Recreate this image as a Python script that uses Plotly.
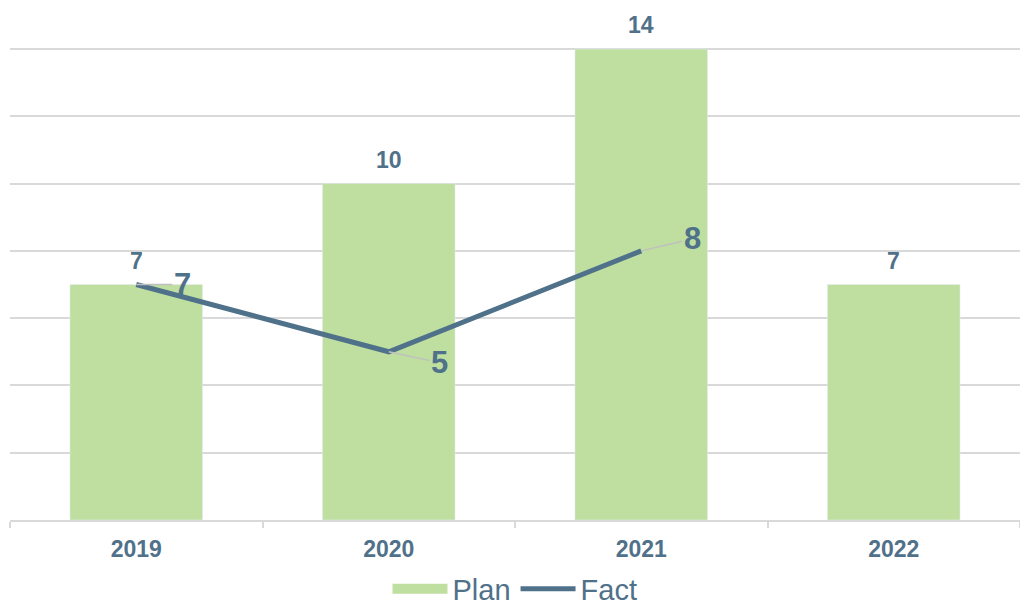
import plotly.graph_objects as go

years = ["2019", "2020", "2021", "2022"]
plan = [7, 10, 14, 7]
fact = [7, 5, 8, None]
fact_label_offsets = [(46, 0), (51, 11), (51, -12)]

TXT = "#50718A"
BAR = "#BFDFA0"
GRID = "#D9D9D9"
FONT = "Liberation Sans"

fig = go.Figure()
fig.add_trace(go.Bar(x=years, y=plan, name="Plan", marker_color=BAR, width=0.525,
                     showlegend=False))
fig.add_trace(go.Scatter(x=[None], y=[None], name="Plan", mode="lines",
                         line=dict(color=BAR, width=16)))
fig.add_trace(go.Scatter(x=years, y=fact, name="Fact", mode="lines",
                         line=dict(color=TXT, width=5)))

for i, v in enumerate(plan):
    fig.add_annotation(x=i, y=v, xref="x", yref="y", text=f"<b>{v}</b>",
                       showarrow=False, yshift=24,
                       font=dict(size=23, color=TXT, family=FONT))
for i, (v, (ax, ay)) in enumerate(zip(fact, fact_label_offsets)):
    if v is None:
        continue
    fig.add_annotation(x=i, y=v, xref="x", yref="y", text=f"<b>{v}</b>",
                       showarrow=True, arrowhead=0, arrowwidth=1.5,
                       arrowcolor="#BFBFBF", ax=ax, ay=ay,
                       font=dict(size=31, color=TXT, family=FONT))

fig.update_layout(
    width=1020, height=606,
    margin=dict(l=10, r=0, t=48, b=86, autoexpand=False),
    paper_bgcolor="white", plot_bgcolor="white",
    font=dict(family=FONT, color=TXT),
    showlegend=True,
    legend=dict(orientation="h", x=0.5, xanchor="center", yref="paper",
                y=-0.146, yanchor="middle", font=dict(size=29, color=TXT),
                itemwidth=55, tracegroupgap=0),
    xaxis=dict(type="category", showline=True, linecolor=GRID, linewidth=1.5,
               ticks="outside", tickson="boundaries", ticklen=6, tickcolor=GRID,
               tickwidth=1.5, tickfont=dict(size=23, color=TXT), range=[-0.5, 3.5],
               tickprefix="<b>", ticksuffix="</b>", ticklabelstandoff=8),
    yaxis=dict(range=[0, 14.03], tick0=0, dtick=2, showgrid=True, gridcolor=GRID,
               gridwidth=1.5, showticklabels=False, zeroline=False),
)
fig.write_html("out.html", config={"displayModeBar": False},
               post_script="document.body.style.margin='0';")
